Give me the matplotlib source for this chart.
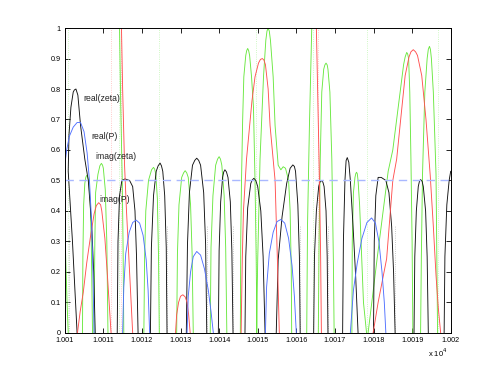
import numpy as np
import matplotlib
matplotlib.use("Agg")
import matplotlib.pyplot as plt

nan = np.nan

# real(zeta) - black, humps separated by nan
real_zeta_x = [
    10010.32, 10010.20, 10010.09, 10010.11, 10010.16, 10010.22, 10010.25, 10010.29, 10010.34, 10010.41, 10010.52, 10010.61, 10010.70, 10010.75, 10010.79, nan,
    10011.36, 10011.38, 10011.42, 10011.48, 10011.56, 10011.68, 10011.76, 10011.82, 10011.86, 10011.90, nan,
    10012.22, 10012.245, 10012.30, 10012.37, 10012.42, 10012.47, 10012.506, 10012.54, 10012.59, 10012.63, 10012.65, nan,
    10013.15, 10013.18, 10013.23, 10013.31, 10013.37, 10013.42, 10013.47, 10013.52, 10013.60, 10013.65, 10013.68, nan,
    10013.98, 10014.00, 10014.04, 10014.09, 10014.12, 10014.15, 10014.19, 10014.23, 10014.29, 10014.33, 10014.36, nan,
    10014.67, 10014.69, 10014.74, 10014.82, 10014.855, 10014.90, 10014.95, 10015.00, 10015.08, 10015.14, 10015.19, nan,
    10015.48, 10015.53, 10015.63, 10015.75, 10015.84, 10015.91, 10015.95, 10015.98, 10016.04, 10016.08, 10016.10, nan,
    10016.45, 10016.47, 10016.52, 10016.58, 10016.61, 10016.65, 10016.69, 10016.72, 10016.77, 10016.80, 10016.82, nan,
    10017.20, 10017.22, 10017.26, 10017.29, 10017.32, 10017.36, 10017.40, 10017.47, 10017.54, 10017.60, nan,
    10018.00, 10018.02, 10018.06, 10018.12, 10018.20, 10018.32, 10018.40, 10018.47, 10018.52, 10018.56, nan,
    10019.05, 10019.07, 10019.11, 10019.16, 10019.19, 10019.22, 10019.26, 10019.29, 10019.35, 10019.39, 10019.42, nan,
    10019.83, 10019.85, 10019.90, 10019.96, 10020.00,
]
real_zeta_y = [
    0.00, 0.30, 0.53, 0.65, 0.74, 0.79, 0.797, 0.80, 0.78, 0.68, 0.57, 0.50, 0.35, 0.20, 0.00, nan,
    0.00, 0.30, 0.45, 0.50, 0.505, 0.50, 0.48, 0.40, 0.25, 0.00, nan,
    0.00, 0.28, 0.45, 0.53, 0.548, 0.557, 0.548, 0.53, 0.45, 0.28, 0.00, nan,
    0.00, 0.29, 0.46, 0.55, 0.566, 0.573, 0.566, 0.55, 0.46, 0.29, 0.00, nan,
    0.00, 0.27, 0.43, 0.51, 0.528, 0.535, 0.528, 0.51, 0.43, 0.27, 0.00, nan,
    0.00, 0.25, 0.41, 0.49, 0.501, 0.507, 0.50, 0.48, 0.40, 0.25, 0.00, nan,
    0.00, 0.24, 0.38, 0.49, 0.54, 0.551, 0.546, 0.53, 0.42, 0.25, 0.00, nan,
    0.00, 0.25, 0.40, 0.48, 0.494, 0.50, 0.494, 0.48, 0.40, 0.25, 0.00, nan,
    0.00, 0.30, 0.50, 0.565, 0.575, 0.56, 0.50, 0.35, 0.18, 0.00, nan,
    0.00, 0.30, 0.45, 0.51, 0.51, 0.50, 0.46, 0.35, 0.20, 0.00, nan,
    0.00, 0.25, 0.40, 0.48, 0.497, 0.503, 0.497, 0.48, 0.40, 0.25, 0.00, nan,
    0.00, 0.25, 0.42, 0.50, 0.53,
]

# real(P) - blue
real_p_x = [
    10010.00, 10010.05, 10010.12, 10010.22, 10010.32, 10010.41, 10010.50, 10010.58, 10010.64, 10010.69, 10010.73, 10010.76, nan,
    10011.50, 10011.53, 10011.58, 10011.67, 10011.76, 10011.85, 10011.94, 10012.03, 10012.11, 10012.16, 10012.20, nan,
    10013.17, 10013.20, 10013.26, 10013.33, 10013.42, 10013.52, 10013.62, 10013.72, 10013.79, 10013.85, nan,
    10015.20, 10015.23, 10015.30, 10015.40, 10015.50, 10015.60, 10015.70, 10015.80, 10015.89, 10015.95, 10016.00, nan,
    10017.40, 10017.48, 10017.58, 10017.70, 10017.83, 10017.95, 10018.05, 10018.14, 10018.22, 10018.28, 10018.32,
]
real_p_y = [
    0.55, 0.60, 0.645, 0.675, 0.69, 0.69, 0.66, 0.59, 0.50, 0.38, 0.20, 0.00, nan,
    0.00, 0.15, 0.26, 0.33, 0.362, 0.37, 0.36, 0.32, 0.24, 0.14, 0.00, nan,
    0.00, 0.12, 0.20, 0.25, 0.267, 0.255, 0.21, 0.14, 0.07, 0.00, nan,
    0.00, 0.15, 0.26, 0.33, 0.365, 0.372, 0.36, 0.31, 0.22, 0.12, 0.00, nan,
    0.00, 0.14, 0.23, 0.31, 0.362, 0.377, 0.36, 0.30, 0.20, 0.10, 0.00,
]

# imag(zeta) - green
imag_zeta_x = [
    10010.00, 10010.03, 10010.06, 10010.09, nan,
    10010.46, 10010.47, 10010.49, 10010.52, 10010.545, 10010.57, 10010.595, 10010.62, 10010.66, 10010.69, 10010.72, nan,
    10010.76, 10010.78, 10010.80, 10010.86, 10010.91, 10010.95, 10010.98, 10011.00, 10011.05, 10011.09, 10011.12, nan,
    10011.42, 10011.45, 10011.49, 10011.51, 10011.53, nan,
    10012.05, 10012.07, 10012.10, 10012.17, 10012.25, 10012.30, 10012.33, 10012.36, 10012.40, 10012.43, 10012.45, nan,
    10012.90, 10012.92, 10012.96, 10013.03, 10013.08, 10013.12, 10013.16, 10013.20, 10013.26, 10013.30, 10013.33, nan,
    10013.77, 10013.79, 10013.84, 10013.91, 10013.96, 10014.00, 10014.035, 10014.07, 10014.13, 10014.17, 10014.20, nan,
    10014.55, 10014.56, 10014.58, 10014.61, 10014.64, 10014.69, 10014.715, 10014.74, 10014.765, 10014.79, 10014.84, 10014.89, 10014.93, 10014.96, 10014.98, nan,
    10014.97, 10015.00, 10015.06, 10015.15, 10015.21, 10015.24, 10015.27, 10015.30, 10015.33, 10015.40, 10015.45, 10015.53, 10015.60, 10015.66, 10015.72, 10015.80, 10015.84, 10015.87, 10015.88, nan,
    10016.27, 10016.29, 10016.34, 10016.40, nan,
    10016.57, 10016.59, 10016.62, 10016.66, 10016.71, 10016.74, 10016.77, 10016.80, 10016.82, 10016.87, 10016.92, 10016.96, 10016.98, nan,
    10017.44, 10017.45, 10017.48, 10017.52, 10017.54, 10017.56, 10017.58, 10017.60, 10017.64, 10017.69, 10017.74, 10017.82, nan,
    10017.86, 10018.10, 10018.38, 10018.50, 10018.69, 10018.78, 10018.82, 10018.86, 10018.885, 10018.91, 10018.94, 10018.97, 10019.00, 10019.02, nan,
    10019.22, 10019.24, 10019.27, 10019.33, 10019.39, 10019.42, 10019.45, 10019.475, 10019.50, 10019.55, 10019.62, 10019.64, 10019.66,
]
imag_zeta_y = [
    0.35, 0.22, 0.10, 0.00, nan,
    0.00, 0.25, 0.42, 0.49, 0.51, 0.517, 0.512, 0.50, 0.43, 0.28, 0.00, nan,
    0.00, 0.30, 0.46, 0.52, 0.548, 0.556, 0.55, 0.54, 0.47, 0.30, 0.00, nan,
    1.00, 0.75, 0.50, 0.30, 0.00, nan,
    0.00, 0.25, 0.40, 0.50, 0.535, 0.543, 0.537, 0.52, 0.44, 0.25, 0.00, nan,
    0.00, 0.26, 0.42, 0.51, 0.525, 0.532, 0.525, 0.51, 0.42, 0.26, 0.00, nan,
    0.00, 0.28, 0.45, 0.55, 0.57, 0.578, 0.57, 0.55, 0.45, 0.28, 0.00, nan,
    0.00, 0.30, 0.50, 0.70, 0.84, 0.91, 0.926, 0.933, 0.926, 0.91, 0.84, 0.74, 0.50, 0.25, 0.00, nan,
    0.00, 0.24, 0.57, 0.84, 0.96, 0.99, 1.00, 0.99, 0.96, 0.84, 0.68, 0.55, 0.535, 0.545, 0.54, 0.50, 0.40, 0.20, 0.00, nan,
    0.00, 0.35, 0.68, 1.00, nan,
    0.00, 0.30, 0.57, 0.79, 0.865, 0.879, 0.885, 0.879, 0.865, 0.79, 0.57, 0.24, 0.00, nan,
    0.00, 0.30, 0.46, 0.51, 0.522, 0.527, 0.522, 0.50, 0.42, 0.26, 0.10, 0.00, nan,
    0.00, 0.25, 0.53, 0.60, 0.79, 0.88, 0.905, 0.92, 0.915, 0.90, 0.79, 0.57, 0.30, 0.00, nan,
    0.00, 0.25, 0.52, 0.79, 0.90, 0.93, 0.94, 0.93, 0.90, 0.79, 0.52, 0.25, 0.00,
]

# imag(P) - red
imag_p_x = [
    10010.33, 10010.40, 10010.48, 10010.57, 10010.66, 10010.76, 10010.82, 10010.88, 10010.93, 10010.96, 10011.04, 10011.10, 10011.15, 10011.20, nan,
    10011.47, 10011.50, 10011.55, 10011.60, 10011.66, 10011.72, 10011.76, nan,
    10012.87, 10012.90, 10012.95, 10013.00, 10013.06, 10013.12, 10013.17, 10013.21, 10013.25, nan,
    10014.57, 10014.60, 10014.63, 10014.71, 10014.85, 10014.93, 10015.02, 10015.07, 10015.12, 10015.16, 10015.20, 10015.27, 10015.32, 10015.45, 10015.51, 10015.56, nan,
    10016.52, 10016.56, 10016.60, 10016.63, 10016.65, nan,
    10017.99, 10018.12, 10018.34, 10018.50, 10018.60, 10018.72, 10018.82, 10018.92, 10018.97, 10019.03, 10019.09, 10019.14, 10019.25, 10019.36, 10019.47, 10019.55, 10019.62, 10019.68, 10019.74,
]
imag_p_y = [
    0.00, 0.07, 0.133, 0.23, 0.31, 0.39, 0.418, 0.427, 0.42, 0.40, 0.31, 0.20, 0.10, 0.00, nan,
    1.00, 0.80, 0.55, 0.40, 0.25, 0.10, 0.00, nan,
    0.00, 0.06, 0.10, 0.12, 0.125, 0.118, 0.10, 0.06, 0.00, nan,
    0.00, 0.24, 0.40, 0.57, 0.76, 0.84, 0.885, 0.897, 0.90, 0.895, 0.88, 0.80, 0.68, 0.50, 0.24, 0.00, nan,
    1.00, 0.75, 0.50, 0.25, 0.00, nan,
    0.00, 0.10, 0.243, 0.50, 0.57, 0.72, 0.844, 0.905, 0.922, 0.929, 0.922, 0.91, 0.844, 0.70, 0.516, 0.35, 0.188, 0.08, 0.00,
]

# faint near-vertical steps drawn dotted
zeta_imag_poles = [10010.08, 10011.40, 10012.45, 10014.96, 10016.42, 10017.82, 10019.66]
p_imag_poles = [10011.45, 10011.20, 10016.56]
zeta_real_poles = [10010.12, 10012.66, 10013.68, 10014.36, 10016.10, 10016.82, 10018.56]

labels = ["real(zeta)", "real(P)", "imag(zeta)", "imag(P)"]
label_x = [10010.48, 10010.70, 10010.80, 10010.90]
label_y = [0.77, 0.645, 0.578, 0.436]

xticks = [10010, 10011, 10012, 10013, 10014, 10015, 10016, 10017, 10018, 10019, 10020]
xtick_labels = ["1.001", "1.0011", "1.0012", "1.0013", "1.0014", "1.0015",
                "1.0016", "1.0017", "1.0018", "1.0019", "1.002"]
yticks = [0, 0.1, 0.2, 0.3, 0.4, 0.5, 0.6, 0.7, 0.8, 0.9, 1]
ytick_labels = ["0", "0.1", "0.2", "0.3", "0.4", "0.5", "0.6", "0.7", "0.8", "0.9", "1"]
level = 0.5

plt.rcParams['font.family'] = ['Liberation Sans', 'DejaVu Sans']

fig = plt.figure(figsize=(4.98, 3.74), dpi=100)
ax = fig.add_axes([0.13, 0.11, 0.775, 0.815])

c_black = '#111111'
c_blue = '#5070ff'
c_green = '#6ae840'
c_red = '#ff5050'
lw = 0.65

for xp in zeta_real_poles:
    ax.axvline(xp, ymax=0.35, color='#999999', lw=0.6, ls=':', alpha=0.7)
for xp in zeta_imag_poles:
    ax.axvline(xp, color='#b8f5a8', lw=0.6, ls=':', alpha=0.9)
for xp in p_imag_poles:
    ax.axvline(xp, color='#ffb0b0', lw=0.6, ls=':', alpha=0.9)

ax.plot(imag_zeta_x, imag_zeta_y, color=c_green, lw=lw)
ax.plot(real_zeta_x, real_zeta_y, color=c_black, lw=lw)
ax.plot(imag_p_x, imag_p_y, color=c_red, lw=lw)
ax.plot(real_p_x, real_p_y, color=c_blue, lw=lw)

ax.axhline(level, color='#a9b8ff', lw=1.0, ls=(0, (6, 4)))

for t, tx, ty in zip(labels, label_x, label_y):
    ax.text(tx, ty, t, fontsize=6.2, ha='left', va='center', color='#222222')

ax.set_xlim(10010, 10020)
ax.set_ylim(0, 1)
ax.set_xticks(xticks)
ax.set_xticklabels(xtick_labels)
ax.set_yticks(yticks)
ax.set_yticklabels(ytick_labels)
ax.tick_params(direction='in', top=True, right=True, length=3.5, width=0.6,
               labelsize=5.2, colors='black')
ax.tick_params(axis='x', pad=3)
ax.tick_params(axis='y', pad=3)
for s in ax.spines.values():
    s.set_linewidth(0.7)

ax.text(0.993, -0.066, r'x 10$^{4}$', transform=ax.transAxes, ha='right',
        va='center', fontsize=5.5)

fig.savefig('out.png', dpi=100)
